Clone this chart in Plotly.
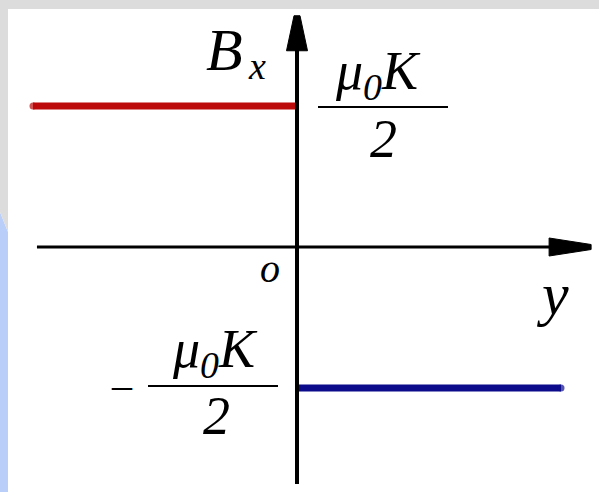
import plotly.graph_objects as go

W, H = 599, 492

# Field profile B_x(y) of an infinite current sheet, in units of mu0*K/2
y_left = [-1.0, 0.0]
bx_left = [1.0, 1.0]
y_right = [0.0, 1.0]
bx_right = [-1.0, -1.0]

# Axis extents (same units)
y_axis_span = [-0.985, 1.114]     # horizontal (y) axis
bx_axis_span = [-1.68, 1.64]      # vertical (B_x) axis

# Where the origin sits on the canvas and how many pixels one unit takes
ORIGIN_PX, ORIGIN_PY = 297, 247
UNIT_X, UNIT_Y = 264, 141

x_range = [-ORIGIN_PX / UNIT_X, (W - ORIGIN_PX) / UNIT_X]
y_range = [-(H - ORIGIN_PY) / UNIT_Y, ORIGIN_PY / UNIT_Y]

RED = "#bc0909"
NAVY = "#0b0b8c"
SERIF = "Liberation Serif, Times New Roman, serif"


def px(x):
    return x / W


def py(y):
    return 1 - y / H


fig = go.Figure()

fig.add_trace(go.Scatter(
    x=y_left, y=bx_left, mode="lines+markers",
    line=dict(color=RED, width=7),
    marker=dict(color=RED, size=[7, 0], line=dict(width=0)),
    hoverinfo="skip", showlegend=False,
))
fig.add_trace(go.Scatter(
    x=y_right, y=bx_right, mode="lines+markers",
    line=dict(color=NAVY, width=7),
    marker=dict(color=NAVY, size=[0, 7], line=dict(width=0)),
    hoverinfo="skip", showlegend=False,
))

shapes = [
    # slide frame: grey band on top, grey/blue strip on the left
    dict(type="rect", xref="paper", yref="paper", x0=0, x1=1, y0=py(9), y1=1,
         fillcolor="#dcdcdc", line_width=0, layer="below"),
    dict(type="path", xref="paper", yref="paper",
         path=f"M 0,{py(212)} L {px(8)},{py(232)} L {px(8)},0 L 0,0 Z",
         fillcolor="#b9cffa", line_width=0, layer="below"),
    dict(type="path", xref="paper", yref="paper",
         path=f"M 0,{py(212)} L {px(8)},{py(232)} L {px(8)},{py(9)} L 0,{py(9)} Z",
         fillcolor="#dcdcdc", line_width=0, layer="below"),
    # coordinate axes
    dict(type="line", xref="x", yref="y", x0=y_axis_span[0], x1=y_axis_span[1] - 0.1,
         y0=0, y1=0, line=dict(color="black", width=3)),
    dict(type="line", xref="x", yref="y", x0=0, x1=0,
         y0=bx_axis_span[0], y1=bx_axis_span[1] - 0.15, line=dict(color="black", width=4)),
    # arrow heads, sized in pixels and anchored at the axis tips
    dict(type="path", xref="x", yref="y", xsizemode="pixel", ysizemode="pixel",
         xanchor=y_axis_span[1], yanchor=0,
         path="M 0,-2.5 L 0,2.5 L -42,9 L -42,-9 Z",
         fillcolor="black", line=dict(color="black", width=1)),
    dict(type="path", xref="x", yref="y", xsizemode="pixel", ysizemode="pixel",
         xanchor=0, yanchor=bx_axis_span[1],
         path="M -3,0 L 3,0 L 10.5,-35 L -10.5,-35 Z",
         fillcolor="black", line=dict(color="black", width=1)),
    # fraction bars of the +/- mu0 K / 2 labels
    dict(type="line", xref="paper", yref="paper", x0=px(318), x1=px(448),
         y0=py(107), y1=py(107), line=dict(color="black", width=2)),
    dict(type="line", xref="paper", yref="paper", x0=px(148), x1=px(278),
         y0=py(386), y1=py(386), line=dict(color="black", width=2)),
]


def label(text, x, y, size, xanchor="center"):
    return dict(text=text, xref="paper", yref="paper", x=px(x), y=py(y),
                xanchor=xanchor, yanchor="middle", showarrow=False,
                font=dict(family=SERIF, size=size, color="black"))


MU0K = "<i>μ</i><sub><i>0</i></sub><i>K</i>"

annotations = [
    label("<i>B</i>", 204, 50, 60, xanchor="left"),
    label("<i>x</i>", 246, 66, 38, xanchor="left"),
    label(MU0K, 378, 74, 54),
    label("<i>2</i>", 383, 139, 54),
    label("<i>o</i>", 270, 268, 40),
    label("<i>y</i>", 552, 294, 60),
    label("–", 122, 384, 40),
    label(MU0K, 215, 352, 54),
    label("<i>2</i>", 216, 416, 54),
]

fig.update_layout(
    width=W, height=H,
    margin=dict(l=0, r=0, t=0, b=0),
    paper_bgcolor="white", plot_bgcolor="white",
    xaxis=dict(range=x_range, visible=False, fixedrange=True),
    yaxis=dict(range=y_range, visible=False, fixedrange=True),
    shapes=shapes, annotations=annotations,
    showlegend=False,
)

fig.write_html("out.html")
